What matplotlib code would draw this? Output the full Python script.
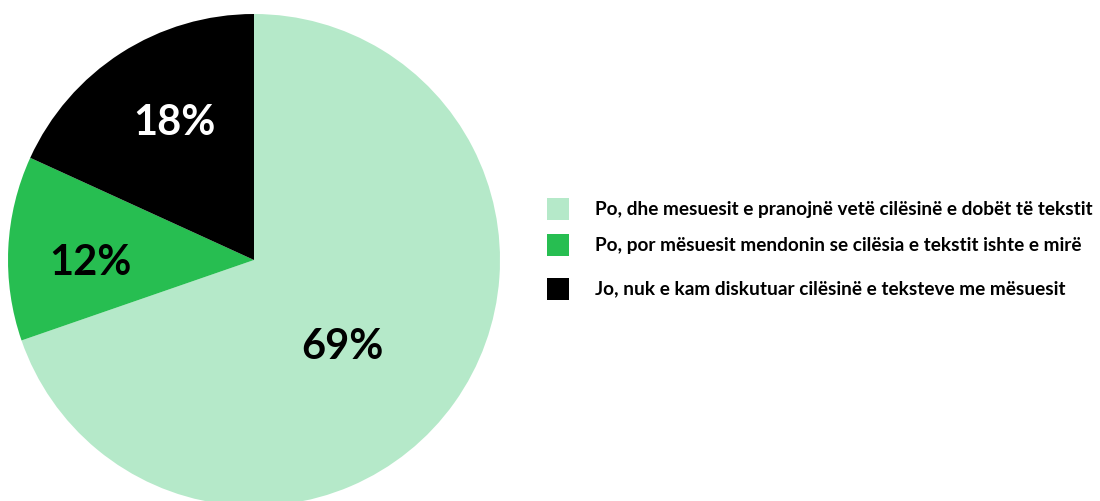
import matplotlib
matplotlib.use("Agg")
import matplotlib.pyplot as plt
from matplotlib.patches import Rectangle

categories = [
    "Po, dhe mesuesit e pranojnë vetë cilësinë e dobët të tekstit",
    "Po, por mësuesit mendonin se cilësia e tekstit ishte e mirë",
    "Jo, nuk e kam diskutuar cilësinë e teksteve me mësuesit",
]
values = [69, 12, 18]
colors = ["#b5e9c9", "#27be51", "#000000"]
label_colors = ["#000000", "#000000", "#ffffff"]

W, H = 1100, 501
fig = plt.figure(figsize=(W / 100, H / 100), dpi=100)
plt.rcParams["font.family"] = ["Lato", "DejaVu Sans"]

cx, cy, r = 254, 260, 246
ax = fig.add_axes([(cx - r) / W, (H - cy - r) / H, 2 * r / W, 2 * r / H])
ax.axis("off")

wedges, _ = ax.pie(values, colors=colors, startangle=90, counterclock=False,
                   radius=1, wedgeprops=dict(linewidth=0))
ax.set_xlim(-1, 1)
ax.set_ylim(-1, 1)

# label positions in pixel offsets from center
label_px = [(342, 347), (90, 263), (174, 123)]
for v, (px, py), c in zip(values, label_px, label_colors):
    ax.text((px - cx) / r, (cy - py) / r, f"{v}%", ha="center", va="center",
            fontsize=30, fontweight="bold", color=c)

# legend
rows_y = [209, 245, 289]
for lab, col, y in zip(categories, colors, rows_y):
    fig.patches.append(Rectangle((547 / W, (H - y - 11) / H), 22 / W, 22 / H,
                                 transform=fig.transFigure, facecolor=col,
                                 edgecolor="none"))
    fig.text(595 / W, (H - y) / H, lab, ha="left", va="center",
             fontsize=13.7, fontweight="bold", color="black")

fig.savefig("out.png", dpi=100)
